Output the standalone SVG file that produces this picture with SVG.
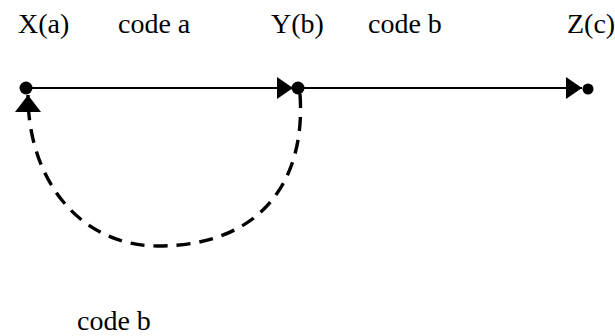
<svg xmlns="http://www.w3.org/2000/svg" width="615" height="336" viewBox="0 0 615 336">
<style>
text{font-family:"Liberation Serif","Times New Roman",serif;font-size:28px;fill:#000}
.solid{fill:none;stroke:#000;stroke-width:2.2}
.dash{fill:none;stroke:#000;stroke-width:3.4;stroke-dasharray:14 9}
.dot{fill:#000}
</style>
<defs>
<marker id="ah" viewBox="0 0 16 22" refX="16" refY="11" markerWidth="16" markerHeight="22" markerUnits="userSpaceOnUse" orient="auto">
<path d="M0,0 L16,11 L0,22 Z" fill="#000"/>
</marker>
<marker id="ahd" viewBox="0 0 17 26" refX="17" refY="13" markerWidth="17" markerHeight="26" markerUnits="userSpaceOnUse" orient="auto">
<path d="M0,0 L17,13 L0,26 Z" fill="#000"/>
</marker>
</defs>
<g id="connectors">
<path class="solid" d="M26,88 L293,88" marker-end="url(#ah)"/>
<path class="solid" d="M298,88 L582,88" marker-end="url(#ah)"/>
<path class="dash" d="M300,94 C306,180 262,246 158,246 C80,246 28,180 28,95" marker-end="url(#ahd)"/>
</g>
<g id="X"><circle class="dot" cx="26" cy="88" r="6.5"/><text x="18" y="33">X(a)</text></g>
<g id="Y"><circle class="dot" cx="298" cy="88" r="6.5"/><text x="271" y="33">Y(b)</text></g>
<g id="Z"><circle class="dot" cx="588" cy="89" r="5.5"/><text x="567" y="33">Z(c)</text></g>
<g id="labels">
<text x="118" y="33">code a</text>
<text x="368" y="33">code b</text>
<text x="77" y="330">code b</text>
</g>
</svg>
